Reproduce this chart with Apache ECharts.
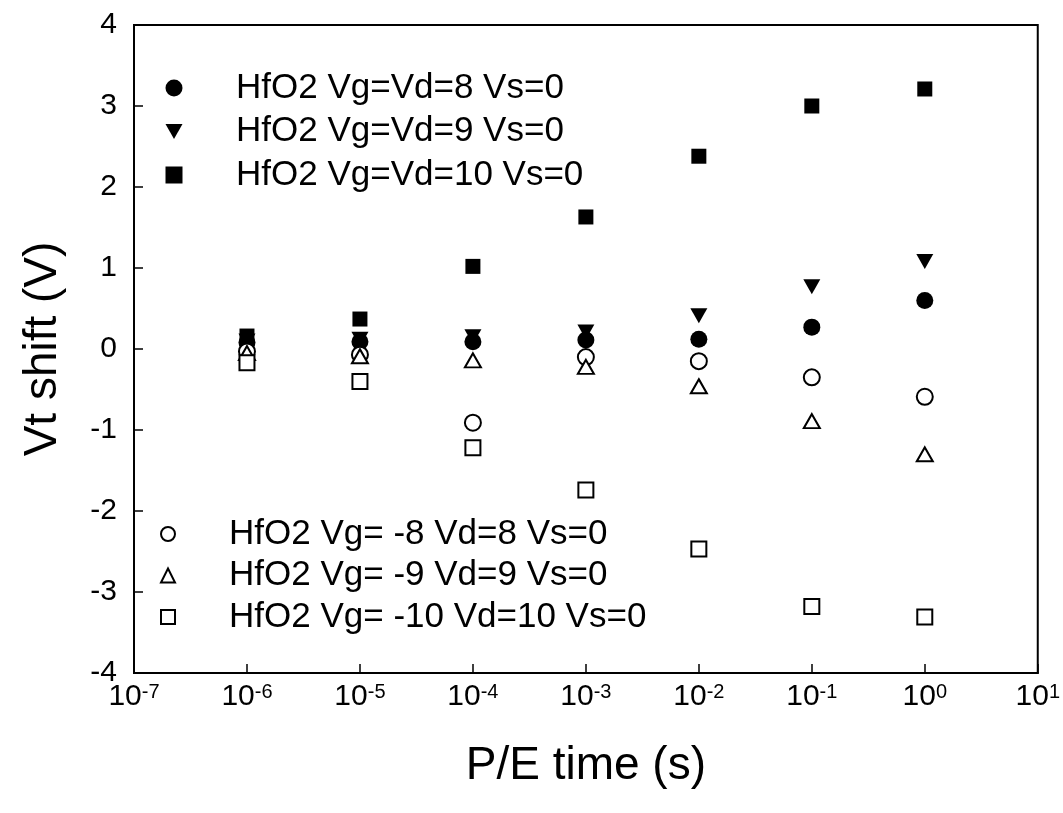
<!DOCTYPE html>
<html>
<head>
<meta charset="utf-8">
<script src="https://cdn.jsdelivr.net/npm/echarts@6/dist/echarts.min.js"></script>
<style>
  html, body { margin: 0; padding: 0; background: #fff; }
  #chartData { width: 1063px; height: 813px; }
</style>
</head>
<body>
<div id="chartData"></div>
<script>
// P/E time (s)
var times = [1e-6, 1e-5, 1e-4, 1e-3, 1e-2, 1e-1, 1];
// Vt shift (V)
var vgVd8 = [0.08, 0.09, 0.09, 0.11, 0.12, 0.27, 0.60];
var vgVd9 = [0.10, 0.12, 0.15, 0.21, 0.41, 0.77, 1.08];
var vgVd10 = [0.16, 0.37, 1.02, 1.63, 2.38, 3.00, 3.21];
var vgNeg8 = [-0.03, -0.07, -0.91, -0.10, -0.15, -0.35, -0.59];
var vgNeg9 = [-0.05, -0.09, -0.14, -0.22, -0.46, -0.89, -1.30];
var vgNeg10 = [-0.17, -0.40, -1.22, -1.74, -2.47, -3.18, -3.31];

var names = [
    'HfO2 Vg=Vd=8 Vs=0',
    'HfO2 Vg=Vd=9 Vs=0',
    'HfO2 Vg=Vd=10 Vs=0',
    'HfO2 Vg= -8 Vd=8 Vs=0',
    'HfO2 Vg= -9 Vd=9 Vs=0',
    'HfO2 Vg= -10 Vd=10 Vs=0'
];

var FONT = '"Liberation Sans", Arial, sans-serif';
// 倒三角 (legend icon)
var DOWN_TRI = 'path://M0,0 L10,0 L5,8.7 Z';

function pairs(ys) {
    var out = [];
    for (var i = 0; i < times.length; i++) {
        out.push([times[i], ys[i]]);
    }
    return out;
}

function mkSeries(name, ys, symbol, size, rotate) {
    return {
        name: name,
        type: 'scatter',
        symbol: symbol,
        symbolSize: size,
        symbolRotate: rotate || 0,
        itemStyle: {
            color: '#000',
            opacity: 1,
            borderColor: '#000',
            borderWidth: symbol.indexOf('empty') === 0 ? 1.8 : 0
        },
        emphasis: { disabled: true },
        data: pairs(ys)
    };
}

var myChart = echarts.init(document.getElementById('chartData'));

var legendText = {
    fontFamily: FONT,
    fontSize: 35,
    color: '#000',
    lineHeight: 36
};

var option = {
    animation: false,
    backgroundColor: '#fff',
    grid: {
        left: 134,
        right: 23,
        top: 25,
        bottom: 140,
        show: true,
        borderColor: '#000',
        borderWidth: 2,
        backgroundColor: 'transparent'
    },
    legend: [
        {
            data: [
                { name: names[0] },
                { name: names[1], icon: DOWN_TRI },
                { name: names[2] }
            ],
            orient: 'vertical',
            left: 165.5,
            top: 70,
            padding: 0,
            itemGap: 7.5,
            itemWidth: 17,
            itemHeight: 17,
            selectedMode: false,
            textStyle: Object.assign({ padding: [0, 0, 0, 48.5] }, legendText)
        },
        {
            data: names.slice(3),
            orient: 'vertical',
            left: 160,
            top: 516,
            padding: 0,
            itemGap: 5.5,
            itemWidth: 14,
            itemHeight: 14,
            selectedMode: false,
            textStyle: Object.assign({ padding: [0, 0, 0, 49] }, legendText)
        }
    ],
    xAxis: {
        type: 'log',
        logBase: 10,
        min: 1e-7,
        max: 10,
        splitNumber: 8,
        name: 'P/E time (s)',
        nameLocation: 'middle',
        nameGap: 70,
        nameTextStyle: { fontFamily: FONT, fontSize: 46, color: '#000' },
        axisLine: { show: true, onZero: false, lineStyle: { color: '#000', width: 2 } },
        axisTick: { show: true, inside: true, length: 9, lineStyle: { color: '#000', width: 1.5 } },
        splitLine: { show: false },
        axisLabel: {
            margin: 9,
            showMinLabel: true,
            showMaxLabel: true,
            hideOverlap: false,
            formatter: function (v) {
                var e = Math.round(Math.log(v) / Math.LN10);
                return '{b|10}{s|' + e + '}';
            },
            rich: {
                b: { fontFamily: FONT, fontSize: 30, color: '#000', lineHeight: 30 },
                s: { fontFamily: FONT, fontSize: 20, color: '#000', verticalAlign: 'top', lineHeight: 16 }
            }
        }
    },
    yAxis: {
        type: 'value',
        min: -4,
        max: 4,
        interval: 1,
        name: 'Vt shift (V)',
        nameLocation: 'middle',
        nameGap: 68,
        nameTextStyle: { fontFamily: FONT, fontSize: 46, color: '#000' },
        axisLine: { show: true, onZero: false, lineStyle: { color: '#000', width: 2 } },
        axisTick: { show: true, inside: true, length: 9, lineStyle: { color: '#000', width: 1.5 } },
        splitLine: { show: false },
        axisLabel: {
            margin: 17,
            fontFamily: FONT,
            fontSize: 30,
            color: '#000'
        }
    },
    series: [
        mkSeries(names[0], vgVd8, 'circle', 17),
        mkSeries(names[1], vgVd9, 'triangle', [17, 15], 180),
        mkSeries(names[2], vgVd10, 'rect', 15),
        mkSeries(names[3], vgNeg8, 'emptyCircle', 16),
        mkSeries(names[4], vgNeg9, 'emptyTriangle', [16, 14]),
        mkSeries(names[5], vgNeg10, 'emptyRect', 15)
    ]
};

myChart.setOption(option);
</script>
</body>
</html>
